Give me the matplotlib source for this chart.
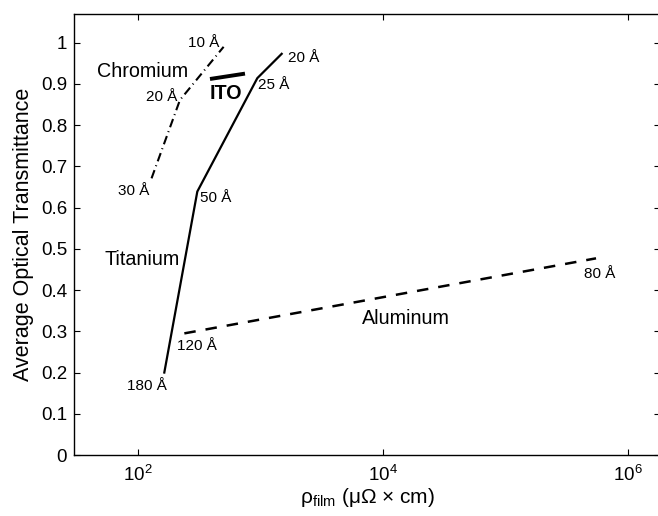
import matplotlib
matplotlib.use("Agg")
import matplotlib.pyplot as plt
from matplotlib.ticker import FixedLocator, FixedFormatter

plt.rcParams["font.family"] = ["Liberation Sans", "DejaVu Sans"]
plt.rcParams["mathtext.fontset"] = "custom"
plt.rcParams["mathtext.rm"] = "Liberation Sans"
plt.rcParams["mathtext.it"] = "Liberation Sans:italic"
plt.rcParams["mathtext.bf"] = "Liberation Sans:bold"
plt.rcParams["mathtext.default"] = "regular"

# film resistivity (uOhm*cm) vs. average optical transmittance
chromium_rho = [129, 220, 500]
chromium_T = [0.671, 0.861, 0.99]
chromium_thk = ["30 Å", "20 Å", "10 Å"]

titanium_rho = [164, 305, 942, 1489]
titanium_T = [0.20, 0.639, 0.914, 0.973]
titanium_thk = ["180 Å", "50 Å", "25 Å", "20 Å"]

aluminum_rho = [239, 548000]
aluminum_T = [0.295, 0.477]
aluminum_thk = ["120 Å", "80 Å"]

ito_rho = [387, 747]
ito_T = [0.912, 0.925]

x_ticks = [1e2, 1e4, 1e6]
x_ticklabels = [r"$10^{2}$", r"$10^{4}$", r"$10^{6}$"]
y_ticks = [0, 0.1, 0.2, 0.3, 0.4, 0.5, 0.6, 0.7, 0.8, 0.9, 1]
y_ticklabels = ["0", "0.1", "0.2", "0.3", "0.4", "0.5", "0.6", "0.7", "0.8", "0.9", "1"]

fig = plt.figure(figsize=(6.58, 5.16), dpi=100)
ax = fig.add_axes([74 / 658, 61 / 516, (660 - 74) / 658, 441 / 516])

ax.plot(chromium_rho, chromium_T, color="black", lw=1.5,
        linestyle=(0, (4.2, 2.0, 0.5, 2.0)))
ax.plot(titanium_rho, titanium_T, color="black", lw=1.6)
ax.plot(aluminum_rho, aluminum_T, color="black", lw=1.8,
        linestyle=(0, (4.6, 4.0)))
ax.plot(ito_rho, ito_T, color="black", lw=2.8, solid_capstyle="butt")

ax.set_xscale("log")
ax.set_xlim(30.04, 10 ** 6.261)
ax.set_ylim(0, 1.0696)

# thickness annotations (offsets in points)
thk_size = 11
cr_offsets = [((-1.5, -9), "right"), ((-1.5, 2), "right"), ((-3, 3), "right")]
for x, y, t, (off, ha) in zip(chromium_rho, chromium_T, chromium_thk, cr_offsets):
    ax.annotate(t, (x, y), xytext=off, textcoords="offset points",
                ha=ha, va="center", fontsize=thk_size)

ti_offsets = [((1.5, -10), "right"), ((2, -4.5), "left"),
              ((0.5, -5), "left"), ((4.5, -3), "left")]
for x, y, t, (off, ha) in zip(titanium_rho, titanium_T, titanium_thk, ti_offsets):
    ax.annotate(t, (x, y), xytext=off, textcoords="offset points",
                ha=ha, va="center", fontsize=thk_size)

al_offsets = [((-5, -9), "left"), ((-9, -11), "left")]
for x, y, t, (off, ha) in zip(aluminum_rho, aluminum_T, aluminum_thk, al_offsets):
    ax.annotate(t, (x, y), xytext=off, textcoords="offset points",
                ha=ha, va="center", fontsize=thk_size)

# material names
name_size = 14.2
ax.text(110, 0.931, "Chromium", ha="center", va="center", fontsize=name_size)
ax.text(523, 0.876, "ITO", ha="center", va="center", fontsize=name_size,
        fontweight="bold")
ax.text(108, 0.473, "Titanium", ha="center", va="center", fontsize=name_size)
ax.text(15400, 0.332, "Aluminum", ha="center", va="center", fontsize=name_size)

ax.xaxis.set_major_locator(FixedLocator(x_ticks))
ax.xaxis.set_major_formatter(FixedFormatter(x_ticklabels))
ax.xaxis.set_minor_locator(FixedLocator([]))
ax.set_yticks(y_ticks)
ax.set_yticklabels(y_ticklabels)
ax.tick_params(axis="both", which="major", direction="in", length=4,
               width=0.8, labelsize=13.5, top=True, right=True)
ax.tick_params(axis="x", pad=7)
ax.tick_params(axis="y", pad=5)

for side in ["left", "bottom", "top"]:
    ax.spines[side].set_linewidth(1.0)
ax.spines["right"].set_visible(False)

ax.set_xlabel(r"ρ$_{film}$ (μΩ × cm)", fontsize=15, labelpad=1)
ax.set_ylabel("Average Optical Transmittance", fontsize=15.5, labelpad=5)

fig.savefig("out.png", dpi=100)
